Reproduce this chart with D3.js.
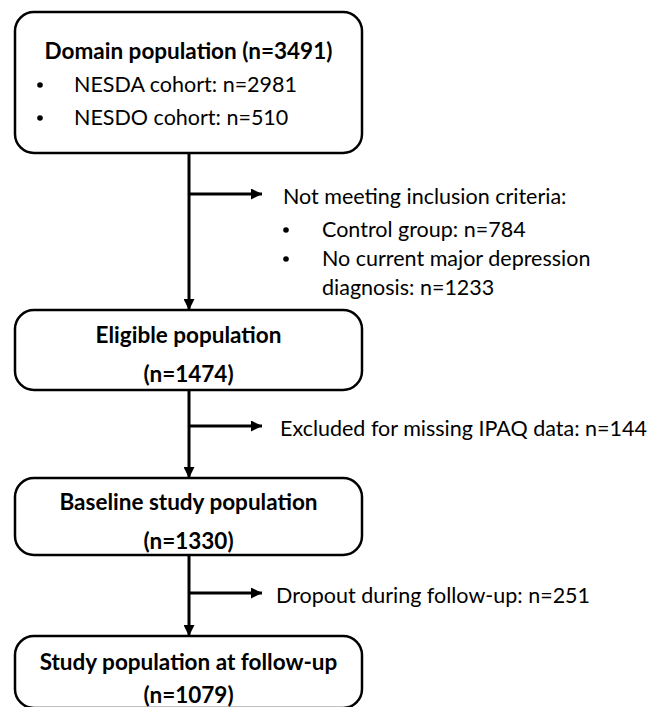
<!DOCTYPE html>
<html>
<head>
<meta charset="utf-8">
<script src="https://cdn.jsdelivr.net/npm/d3@7"></script>
<style>
  html, body { margin: 0; padding: 0; background: #fff; }
  svg { display: block; }
</style>
</head>
<body>
<svg id="chart"></svg>
<script>
const width = 667, height = 707;

// flow stages
const stageTitles = ["Domain population", "Eligible population", "Baseline study population", "Study population at follow-up"];
const stageCounts = [3491, 1474, 1330, 1079];
const cohortNames = ["NESDA cohort", "NESDO cohort"];
const cohortCounts = [2981, 510];

// exclusions between stages
const exclusionLabels = ["Not meeting inclusion criteria:", "Excluded for missing IPAQ data", "Dropout during follow-up"];
const exclusionCounts = [null, 144, 251];
const criteriaNames = ["Control group", "No current major depression\ndiagnosis"];
const criteriaCounts = [784, 1233];

// layout (pixels)
const boxX0 = 15, boxX1 = 362, lineX = 189;
const boxTops = [12, 310, 478, 636];
const boxBottoms = [153, 390, 555, 708];
const titleY = [50, 334, 501, 661];
const countY = [null, 373, 540, 694];
const branchY = [194, 426, 593];
const branchTip = [262, 262, 262];
const branchTextX = [283, 280, 276];

const font = "Lato, 'Open Sans', sans-serif";
const fs = 21.5, fsBold = 22.5;

const svg = d3.select("#chart")
    .attr("width", width)
    .attr("height", height)
    .style("font-family", font);

svg.append("defs").append("marker")
    .attr("id", "arrow")
    .attr("viewBox", "0 0 10 10")
    .attr("refX", 10).attr("refY", 5)
    .attr("markerUnits", "userSpaceOnUse")
    .attr("markerWidth", 12).attr("markerHeight", 11)
    .attr("orient", "auto")
    .append("path")
    .attr("d", "M0,0L10,5L0,10z")
    .attr("fill", "#000");

// connectors down the middle
const links = d3.range(stageTitles.length - 1);
svg.selectAll(".down")
    .data(links)
    .join("line")
    .attr("x1", lineX).attr("x2", lineX)
    .attr("y1", i => boxBottoms[i])
    .attr("y2", i => boxTops[i + 1])
    .attr("stroke", "#000").attr("stroke-width", 3)
    .attr("marker-end", "url(#arrow)");

svg.selectAll(".side")
    .data(links)
    .join("line")
    .attr("x1", lineX).attr("x2", i => branchTip[i])
    .attr("y1", i => branchY[i]).attr("y2", i => branchY[i])
    .attr("stroke", "#000").attr("stroke-width", 3)
    .attr("marker-end", "url(#arrow)");

// boxes
const boxes = svg.selectAll(".box")
    .data(stageTitles)
    .join("g");

boxes.append("rect")
    .attr("x", boxX0)
    .attr("y", (d, i) => boxTops[i])
    .attr("width", boxX1 - boxX0)
    .attr("height", (d, i) => boxBottoms[i] - boxTops[i])
    .attr("rx", 19).attr("ry", 19)
    .attr("fill", "#fff")
    .attr("stroke", "#000")
    .attr("stroke-width", 2.5);

const cx = (boxX0 + boxX1) / 2;

// first box: title + bullets
svg.append("text")
    .attr("x", cx).attr("y", titleY[0])
    .attr("text-anchor", "middle").attr("dominant-baseline", "central")
    .attr("font-weight", "bold").attr("font-size", fsBold)
    .text(`${stageTitles[0]} (n=${stageCounts[0]})`);

svg.selectAll(".cohort")
    .data(cohortNames)
    .join("g")
    .each(function(d, i) {
        const g = d3.select(this);
        const y = 84 + i * 33;
        g.append("circle").attr("cx", 40).attr("cy", y + 1).attr("r", 2.8).attr("fill", "#000");
        g.append("text").attr("x", 74).attr("y", y)
            .attr("dominant-baseline", "central")
            .attr("font-size", fs).text(`${d}: n=${cohortCounts[i]}`);
    });

// other boxes: title + count on two lines
boxes.filter((d, i) => i > 0).each(function(d) {
    const i = stageTitles.indexOf(d);
    const g = d3.select(this);
    g.append("text").attr("x", cx).attr("y", titleY[i])
        .attr("text-anchor", "middle").attr("dominant-baseline", "central")
        .attr("font-weight", "bold").attr("font-size", fsBold).text(d);
    g.append("text").attr("x", cx).attr("y", countY[i])
        .attr("text-anchor", "middle").attr("dominant-baseline", "central")
        .attr("font-weight", "bold").attr("font-size", fsBold).text(`(n=${stageCounts[i]})`);
});

// exclusion texts
svg.selectAll(".excl")
    .data(exclusionLabels)
    .join("text")
    .attr("x", (d, i) => branchTextX[i])
    .attr("y", (d, i) => branchY[i] + 2)
    .attr("dominant-baseline", "central")
    .attr("font-size", fs)
    .text((d, i) => exclusionCounts[i] == null ? d : `${d}: n=${exclusionCounts[i]}`);

// inclusion criteria bullets
let lineY = 229;
criteriaNames.forEach((name, i) => {
    const lines = (name + `: n=${criteriaCounts[i]}`).split("\n");
    svg.append("circle").attr("cx", 286).attr("cy", lineY + 1).attr("r", 2.8).attr("fill", "#000");
    lines.forEach(l => {
        svg.append("text").attr("x", 322).attr("y", lineY)
            .attr("dominant-baseline", "central")
            .attr("font-size", fs).text(l);
        lineY += 29;
    });
});
</script>
</body>
</html>
